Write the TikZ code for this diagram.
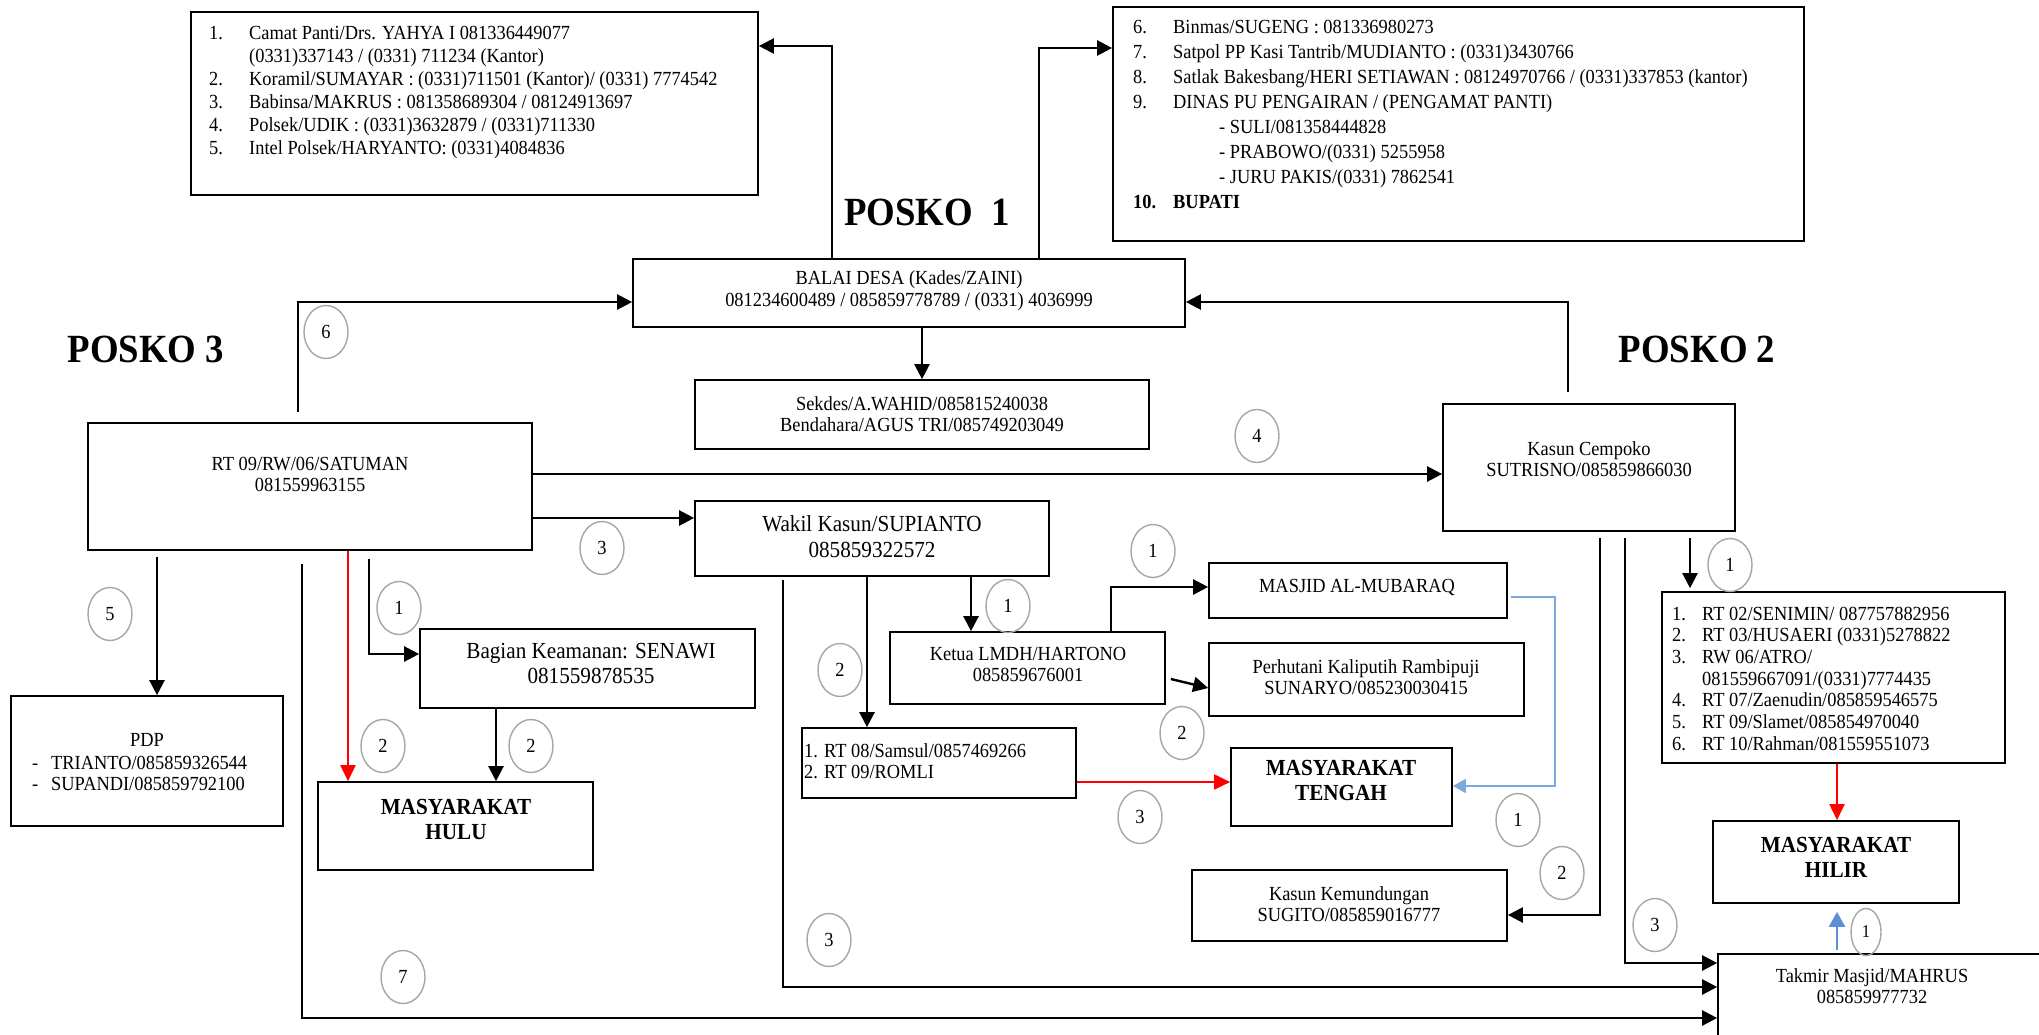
\documentclass[tikz,border=0pt]{standalone}
\usepackage{fontspec}
\setmainfont{Liberation Serif}[FakeStretch=0.92]
\usetikzlibrary{arrows.meta,shapes.geometric,fit}

\definecolor{ringgray}{HTML}{A6A6A6}
\definecolor{flowred}{HTML}{FF0000}
\definecolor{flowblue}{HTML}{5B8FD6}
\definecolor{paleblue}{HTML}{7EA8DE}

\begin{document}
\begin{tikzpicture}[x=1pt,y=-1pt,
  box/.style={draw, line width=1.7pt, inner sep=0pt},
  txt/.style={inner sep=0pt, align=center, font=\fontsize{20}{21}\selectfont},
  txtbig/.style={inner sep=0pt, align=center, font=\fontsize{23}{26}\selectfont},
  txtbold/.style={inner sep=0pt, align=center, font=\bfseries\fontsize{23}{25}\selectfont},
  listtxt/.style={inner sep=0pt, anchor=base west},
  posko/.style={inner sep=0pt, font=\bfseries\fontsize{40}{44}\selectfont},
  ring/.style={ellipse, draw=ringgray, line width=1.4pt, minimum width=44pt,
    minimum height=53pt, inner sep=0pt, font=\fontsize{20}{20}\selectfont},
  tip/.style={-{Triangle[length=15pt,width=15pt]}},
  link/.style={line width=2.4pt, tip},
  redlink/.style={draw=flowred, line width=2pt, -{Triangle[length=16pt,width=15pt]}, flowred},
  bluelink/.style={draw=flowblue, line width=2pt, -{Triangle[length=15pt,width=16pt]}, flowblue},
  palelink/.style={draw=paleblue, line width=1.6pt, -{Triangle[length=13pt,width=14pt]}, paleblue}
]
\useasboundingbox (0,0) rectangle (2039,1035);
\fill[white] (0,0) rectangle (2039,1035);
\clip (0,0) rectangle (2039,1035);

% ---------- boxes ----------
\node[box, fit={(191,12) (758,195)}] (camat) {};
\node[box, fit={(1113,7) (1804,241)}] (binmas) {};
\node[box, fit={(633,259) (1185,327)}] (balai) {};
\node[box, fit={(695,380) (1149,449)}] (sekdes) {};
\node[box, fit={(88,423) (532,550)}] (rt) {};
\node[box, fit={(1443,404) (1735,531)}] (kasun) {};
\node[box, fit={(695,501) (1049,576)}] (wakil) {};
\node[box, fit={(420,629) (755,708)}] (bagian) {};
\node[box, fit={(11,696) (283,826)}] (pdp) {};
\node[box, fit={(318,782) (593,870)}] (hulu) {};
\node[box, fit={(890,632) (1165,704)}] (lmdh) {};
\node[box, fit={(1209,563) (1507,618)}] (masjid) {};
\node[box, fit={(1209,643) (1524,716)}] (perhutani) {};
\node[box, fit={(1231,748) (1452,826)}] (tengah) {};
\node[box, fit={(802,728) (1076,798)}] (rtdelapan) {};
\node[box, fit={(1192,870) (1507,941)}] (kemund) {};
\node[box, fit={(1662,592) (2005,763)}] (rtlist) {};
\node[box, fit={(1713,821) (1959,903)}] (hilir) {};
\node[box, fit={(1718,954) (2090,1090)}] (takmir) {};

% ---------- box texts ----------
\node[listtxt] (camattxt) at (209,40) {\fontsize{20}{23}\selectfont
  \begin{tabular}[t]{@{}p{40pt}@{}l@{}}
  1. & Camat Panti/Drs. YAHYA I 081336449077\\
     & (0331)337143 / (0331) 711234 (Kantor)\\
  2. & Koramil/SUMAYAR : (0331)711501 (Kantor)/ (0331) 7774542\\
  3. & Babinsa/MAKRUS : 081358689304 / 08124913697\\
  4. & Polsek/UDIK : (0331)3632879 / (0331)711330\\
  5. & Intel Polsek/HARYANTO: (0331)4084836
  \end{tabular}};
\node[listtxt] (binmastxt) at (1133,34) {\fontsize{20}{25}\selectfont
  \begin{tabular}[t]{@{}p{40pt}@{}l@{}}
  6. & Binmas/SUGENG : 081336980273\\
  7. & Satpol PP Kasi Tantrib/MUDIANTO : (0331)3430766\\
  8. & Satlak Bakesbang/HERI SETIAWAN : 08124970766 / (0331)337853 (kantor)\\
  9. & DINAS PU PENGAIRAN / (PENGAMAT PANTI)\\
     & \hspace*{46pt}- SULI/081358444828\\
     & \hspace*{46pt}- PRABOWO/(0331) 5255958\\
     & \hspace*{46pt}- JURU PAKIS/(0331) 7862541\\
  \textbf{10.} & \textbf{BUPATI}
  \end{tabular}};
\node[listtxt] (rtlisttxt) at (1672,620) {\fontsize{20}{21.7}\selectfont
  \begin{tabular}[t]{@{}p{30pt}@{}l@{}}
  1. & RT 02/SENIMIN/ 087757882956\\
  2. & RT 03/HUSAERI (0331)5278822\\
  3. & RW 06/ATRO/\\
     & 081559667091/(0331)7774435\\
  4. & RT 07/Zaenudin/085859546575\\
  5. & RT 09/Slamet/085854970040\\
  6. & RT 10/Rahman/081559551073
  \end{tabular}};

\node[txt, font=\fontsize{20}{22}\selectfont] (balaitxt) at (909,291)
  {BALAI DESA (Kades/ZAINI)\\081234600489 / 085859778789 / (0331) 4036999};
\node[txt] (sekdestxt) at (922,414) {Sekdes/A.WAHID/085815240038\\Bendahara/AGUS TRI/085749203049};
\node[txt] (rttxt) at (310,474) {RT 09/RW/06/SATUMAN\\081559963155};
\node[txt] (kasuntxt) at (1589,459) {Kasun Cempoko\\SUTRISNO/085859866030};
\node[txtbig] (wakiltxt) at (872,537) {Wakil Kasun/SUPIANTO\\085859322572};
\node[txtbig, font=\fontsize{23}{25}\selectfont] (bagiantxt) at (591,663) {Bagian Keamanan: SENAWI\\081559878535};
\node[txt] (lmdhtxt) at (1028,664) {Ketua LMDH/HARTONO\\085859676001};
\node[txt] (masjidtxt) at (1357,587) {MASJID AL-MUBARAQ};
\node[txt] (perhutanitxt) at (1366,677) {Perhutani Kaliputih Rambipuji\\SUNARYO/085230030415};
\node[txtbold] (tengahtxt) at (1341,780) {MASYARAKAT\\TENGAH};
\node[txtbold] (hulutxt) at (456,819) {MASYARAKAT\\HULU};
\node[txtbold] (hilirtxt) at (1836,857) {MASYARAKAT\\HILIR};
\node[txt] (kemundtxt) at (1349,904) {Kasun Kemundungan\\SUGITO/085859016777};
\node[txt] (takmirtxt) at (1872,986) {Takmir Masjid/MAHRUS\\085859977732};
\node[txt, align=left, anchor=west] (rtdelapantxt) at (804,761) {1. RT 08/Samsul/0857469266\\2. RT 09/ROMLI};
\node[txt] (pdptitle) at (147,740) {PDP};
\node[txt, align=left, anchor=west] (pdptxt) at (32,773)
  {\makebox[19pt][l]{-}TRIANTO/085859326544\\\makebox[19pt][l]{-}SUPANDI/085859792100};

% ---------- post titles ----------
\node[posko] (poskosatu) at (927,212) {POSKO\ \ 1};
\node[posko] (poskodua) at (1697,349) {POSKO 2};
\node[posko] (poskotiga) at (146,349) {POSKO 3};

% ---------- bend points ----------
\coordinate (c1) at (832,46);
\coordinate (c2) at (1039,48);
\coordinate (c4) at (1568,302);
\coordinate (c5) at (298,302);
\coordinate (c6) at (0,474);
\coordinate (c7) at (0,518);
\coordinate (c8) at (971,0);
\coordinate (c9) at (867,0);
\coordinate (c10) at (783,987);
\coordinate (c11) at (157,0);
\coordinate (c12) at (302,1018);
\coordinate (c13) at (348,0);
\coordinate (c14) at (369,654);
\coordinate (c15) at (496,0);
\coordinate (c16) at (1111,587);
\coordinate (c18) at (0,782);
\coordinate (c19a) at (1555,597);
\coordinate (c19b) at (1555,786);
\coordinate (c20) at (1600,915);
\coordinate (c21) at (1625,963);
\coordinate (c22) at (1690,0);
\coordinate (c23) at (1837,0);

% ---------- connectors ----------
\draw[link] (balai.north -| c1) -- (c1) -- (c1 -| camat.east);
\draw[link] (balai.north -| c2) -- (c2) -- (c2 -| binmas.west);
\draw[link] (balai.south -| sekdes.north) -- (sekdes.north);
\draw[link, shorten <=11pt] (kasun.north -| c4) -- (c4) -- (c4 -| balai.east);
\draw[link, shorten <=10pt] (rt.north -| c5) -- (c5) -- (c5 -| balai.west);
\draw[link] (rt.east |- c6) -- (kasun.west |- c6);
\draw[link] (rt.east |- c7) -- (wakil.west |- c7);
\draw[link] (wakil.south -| c8) -- (lmdh.north -| c8);
\draw[link] (wakil.south -| c9) -- (rtdelapan.north -| c9);
\draw[link, shorten <=3pt] (wakil.south -| c10) -- (c10) -- (c10 -| takmir.west);
\draw[link, shorten <=6pt] (rt.south -| c11) -- (pdp.north -| c11);
\draw[link, shorten <=13pt] (rt.south -| c12) -- (c12) -- (c12 -| takmir.west);
\draw[redlink] (rt.south -| c13) -- (hulu.north -| c13);
\draw[link, shorten <=8pt] (rt.south -| c14) -- (c14) -- (c14 -| bagian.west);
\draw[link] (bagian.south -| c15) -- (hulu.north -| c15);
\draw[link] (lmdh.north -| c16) -- (c16) -- (c16 -| masjid.west);
\draw[link] ([shift={(5,11)}]lmdh.east) -- ([shift={(0,8.5)}]perhutani.west);
\draw[redlink] (rtdelapan.east |- c18) -- (tengah.west |- c18);
\draw[palelink, shorten <=3pt] (masjid.east |- c19a) -- (c19a) -- (c19b) -- (c19b -| tengah.east);
\draw[link, shorten <=6pt] (kasun.south -| c20) -- (c20) -- (c20 -| kemund.east);
\draw[link, shorten <=6pt] (kasun.south -| c21) -- (c21) -- (c21 -| takmir.west);
\draw[link, shorten <=6pt, shorten >=3pt] (kasun.south -| c22) -- (rtlist.north -| c22);
\draw[redlink] (rtlist.south -| c23) -- (hilir.north -| c23);
\draw[bluelink, shorten <=3pt, shorten >=8pt] (takmir.north -| c23) -- (hilir.south -| c23);

% ---------- step numbers ----------
\node[ring] (n6) at (326,332) {6};
\node[ring] (n4) at (1257,436) {4};
\node[ring] (n3a) at (602,548) {3};
\node[ring] (n1a) at (1008,606) {1};
\node[ring] (n1b) at (1153,551) {1};
\node[ring] (n2a) at (840,670) {2};
\node[ring] (n2b) at (1182,733) {2};
\node[ring] (n3b) at (1140,817) {3};
\node[ring] (n1c) at (1518,820) {1};
\node[ring] (n2c) at (1562,873) {2};
\node[ring] (n3c) at (829,940) {3};
\node[ring] (n3d) at (1655,925) {3};
\node[ring] (n1d) at (1730,565) {1};
\node[ring, minimum width=30pt, minimum height=47pt, font=\fontsize{18}{18}\selectfont] (n1e) at (1866,932) {1};
\node[ring] (n5) at (110,614) {5};
\node[ring] (n1f) at (399,608) {1};
\node[ring] (n2d) at (383,746) {2};
\node[ring] (n2e) at (531,746) {2};
\node[ring] (n7) at (403,977) {7};
\end{tikzpicture}
\end{document}
